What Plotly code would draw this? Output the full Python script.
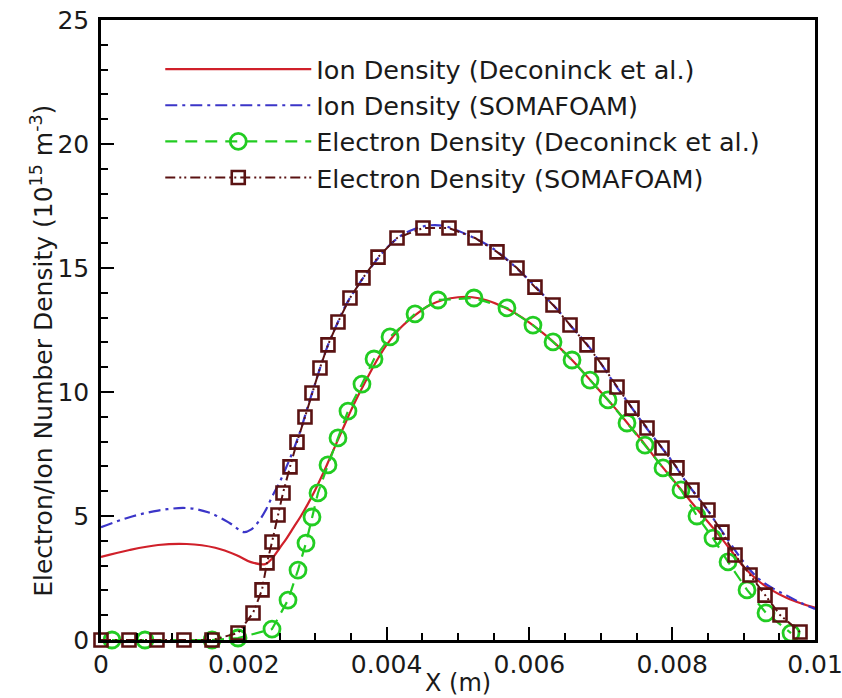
import plotly.graph_objects as go

# ---------------- data ----------------
ion_dec_x = [0, 0.0004, 0.0008, 0.0012, 0.0016, 0.0019, 0.0021, 0.0023, 0.0024, 0.0025,
             0.0026, 0.0027, 0.0028, 0.0029, 0.0030, 0.0031, 0.0032, 0.0033, 0.0034, 0.0035,
             0.0036, 0.0037, 0.0038, 0.0039, 0.0040, 0.0042, 0.0044, 0.0046, 0.0048, 0.0050,
             0.0052, 0.0054, 0.0056, 0.0058, 0.0060, 0.0062, 0.0064, 0.0066, 0.0068, 0.0070,
             0.0072, 0.0074, 0.0076, 0.0078, 0.0080, 0.0082, 0.0084, 0.0086, 0.0088, 0.0090,
             0.0092, 0.0094, 0.0096, 0.0098, 0.0100]
ion_dec_y = [3.35, 3.63, 3.83, 3.87, 3.72, 3.42, 3.14, 3.06, 3.3, 3.7,
             4.1, 4.55, 5.0, 5.5, 6.05, 6.65, 7.3, 7.95, 8.6, 9.25,
             9.85, 10.4, 10.95, 11.45, 11.9, 12.6, 13.1, 13.5, 13.72, 13.82,
             13.82, 13.7, 13.48, 13.18, 12.8, 12.35, 11.85, 11.28, 10.65, 10.0,
             9.35, 8.65, 7.95, 7.2, 6.5, 5.8, 5.1, 4.42, 3.7, 2.95,
             2.4, 2.0, 1.7, 1.48, 1.3]

ion_som_x = [0, 0.0004, 0.0008, 0.0012, 0.0015, 0.0018, 0.0020, 0.0021, 0.0022, 0.0023,
             0.0024, 0.0025, 0.0026, 0.0027, 0.0028, 0.0029, 0.0030, 0.0031, 0.0032, 0.0033,
             0.0034, 0.0035, 0.0036, 0.0037, 0.0038, 0.0040, 0.0042, 0.0044, 0.0046, 0.0048,
             0.0050, 0.0052, 0.0054, 0.0056, 0.0058, 0.0060, 0.0062, 0.0064, 0.0066, 0.0068,
             0.0070, 0.0072, 0.0074, 0.0076, 0.0078, 0.0080, 0.0082, 0.0084, 0.0086, 0.0088,
             0.0090, 0.0092, 0.0094, 0.0096, 0.0098, 0.0100]
ion_som_y = [4.55, 4.95, 5.22, 5.32, 5.15, 4.72, 4.35, 4.45, 4.75, 5.2,
             5.8, 6.35, 7.0, 7.7, 8.5, 9.45, 10.35, 11.25, 12.05, 12.7,
             13.35, 13.85, 14.3, 14.72, 15.1, 15.8, 16.3, 16.58, 16.72, 16.7,
             16.5, 16.25, 15.95, 15.55, 15.05, 14.5, 13.9, 13.3, 12.6, 11.95,
             11.15, 10.3, 9.5, 8.7, 7.95, 7.2, 6.35, 5.6, 4.8, 3.95,
             3.15, 2.5, 2.1, 1.8, 1.5, 1.25]

elec_dec_x = [0.000154, 0.000616, 0.001555, 0.001919, 0.002395, 0.002619, 0.002759, 0.002871,
              0.002955, 0.003039, 0.003179, 0.003319, 0.003459, 0.003655, 0.003824, 0.004048,
              0.004398, 0.00472, 0.005224, 0.005686, 0.00605, 0.006331, 0.006597, 0.006849,
              0.007101, 0.007367, 0.007619, 0.007871, 0.008123, 0.008347, 0.008571, 0.008782,
              0.009048, 0.009314, 0.009664]
elec_dec_y = [0, 0, 0, 0.08, 0.44, 1.61, 2.82, 3.91,
              4.96, 5.93, 7.06, 8.15, 9.23, 10.32, 11.33, 12.22,
              13.15, 13.71, 13.79, 13.39, 12.70, 12.02, 11.29, 10.48,
              9.68, 8.75, 7.86, 6.94, 6.05, 5.0, 4.11, 3.15,
              2.02, 1.09, 0.28]

elec_som_x = [0, 0.000392, 0.000784, 0.001162, 0.001555, 0.001919, 0.002129, 0.002255,
              0.002325, 0.002395, 0.002479, 0.002549, 0.002647, 0.002745, 0.002857, 0.002955,
              0.003067, 0.003179, 0.003319, 0.003487, 0.003669, 0.00388, 0.004146, 0.00451,
              0.004874, 0.005238, 0.005546, 0.005826, 0.006078, 0.006331, 0.006569, 0.006807,
              0.007017, 0.007227, 0.007437, 0.007647, 0.007857, 0.008067, 0.008277, 0.008501,
              0.008697, 0.00888, 0.00909, 0.0093, 0.00951, 0.00979]
elec_som_y = [0, 0, 0, 0, 0, 0.28, 1.09, 2.02,
              3.11, 3.95, 5.04, 5.93, 6.98, 7.98, 8.99, 9.96,
              10.97, 11.90, 12.82, 13.79, 14.60, 15.44, 16.21, 16.61,
              16.61, 16.21, 15.65, 15.0, 14.23, 13.51, 12.70, 11.90,
              11.09, 10.20, 9.35, 8.55, 7.74, 6.94, 6.05, 5.24,
              4.35, 3.43, 2.62, 1.81, 1.01, 0.32]

series_names = ["Ion Density (Deconinck et al.)", "Ion Density (SOMAFOAM)",
                "Electron Density (Deconinck et al.)", "Electron Density (SOMAFOAM)"]
x_ticks = [0, 0.002, 0.004, 0.006, 0.008, 0.01]
x_ticklabels = ["0", "0.002", "0.004", "0.006", "0.008", "0.01"]
y_ticks = [0, 5, 10, 15, 20, 25]

FONT = "DejaVu Sans, Liberation Sans, Arial, sans-serif"
TXT = "#1a1a1a"
RED = "#d0202a"
BLUE = "#3b35c8"
GREEN = "#22cc22"
MAROON = "#5a1212"

fig = go.Figure()
fig.add_trace(go.Scatter(x=ion_dec_x, y=ion_dec_y, mode="lines", name=series_names[0],
                         line=dict(color=RED, width=2.2, shape="spline")))
fig.add_trace(go.Scatter(x=ion_som_x, y=ion_som_y, mode="lines", name=series_names[1],
                         line=dict(color=BLUE, width=2.2, shape="spline",
                                   dash="12px,5px,3px,5px")))
fig.add_trace(go.Scatter(x=elec_dec_x, y=elec_dec_y, mode="lines+markers", name=series_names[2],
                         line=dict(color=GREEN, width=2.2, dash="12px,8px"),
                         marker=dict(symbol="circle-open", size=16, color=GREEN,
                                     line=dict(width=2.8, color=GREEN)),
                         cliponaxis=False))
fig.add_trace(go.Scatter(x=elec_som_x, y=elec_som_y, mode="lines+markers", name=series_names[3],
                         line=dict(color=MAROON, width=2.0, dash="10px,4px,2px,3px,2px,4px"),
                         marker=dict(symbol="square-open", size=13, color=MAROON,
                                     line=dict(width=2.6, color=MAROON)),
                         cliponaxis=False))

axis_common = dict(showgrid=False, zeroline=False, showline=True, linecolor="black",
                   linewidth=2.5, mirror=True, ticks="inside", ticklen=13, tickwidth=2,
                   tickcolor="black", automargin=False,
                   tickfont=dict(family=FONT, size=25, color=TXT))

fig.update_xaxes(range=[0, 0.01], tickvals=x_ticks, ticktext=x_ticklabels,
                 minor=dict(ticks="inside", dtick=0.0005, ticklen=7, tickwidth=1.5,
                            tickcolor="black"),
                 ticklabelstandoff=0, ticklabeloverflow="allow", **axis_common)
fig.update_yaxes(range=[0, 25], tickvals=y_ticks,
                 minor=dict(ticks="inside", dtick=1, ticklen=7, tickwidth=1.5,
                            tickcolor="black"),
                 ticklabelstandoff=4, **axis_common)

fig.update_layout(
    width=842, height=698,
    margin=dict(l=101, r=27, t=20, b=58, autoexpand=False),
    paper_bgcolor="white", plot_bgcolor="white",
    font=dict(family=FONT, color=TXT),
    showlegend=True,
    legend=dict(x=0.083, y=0.958, xanchor="left", yanchor="top",
                bgcolor="rgba(0,0,0,0)", borderwidth=0,
                font=dict(family=FONT, size=25.5, color=TXT),
                itemwidth=146, tracegroupgap=0),
    annotations=[
        dict(text="X (m)", xref="paper", yref="paper", x=0.5, y=-0.069,
             xanchor="center", yanchor="middle", showarrow=False,
             font=dict(family=FONT, size=24, color=TXT)),
        dict(text="Electron/Ion Number Density (10<sup>15</sup> m<sup>-3</sup>)",
             xref="paper", yref="paper", x=-0.083, y=0.466, textangle=-90,
             xanchor="center", yanchor="middle", showarrow=False,
             font=dict(family=FONT, size=25, color=TXT)),
    ],
)

fig.write_html("out.html")
